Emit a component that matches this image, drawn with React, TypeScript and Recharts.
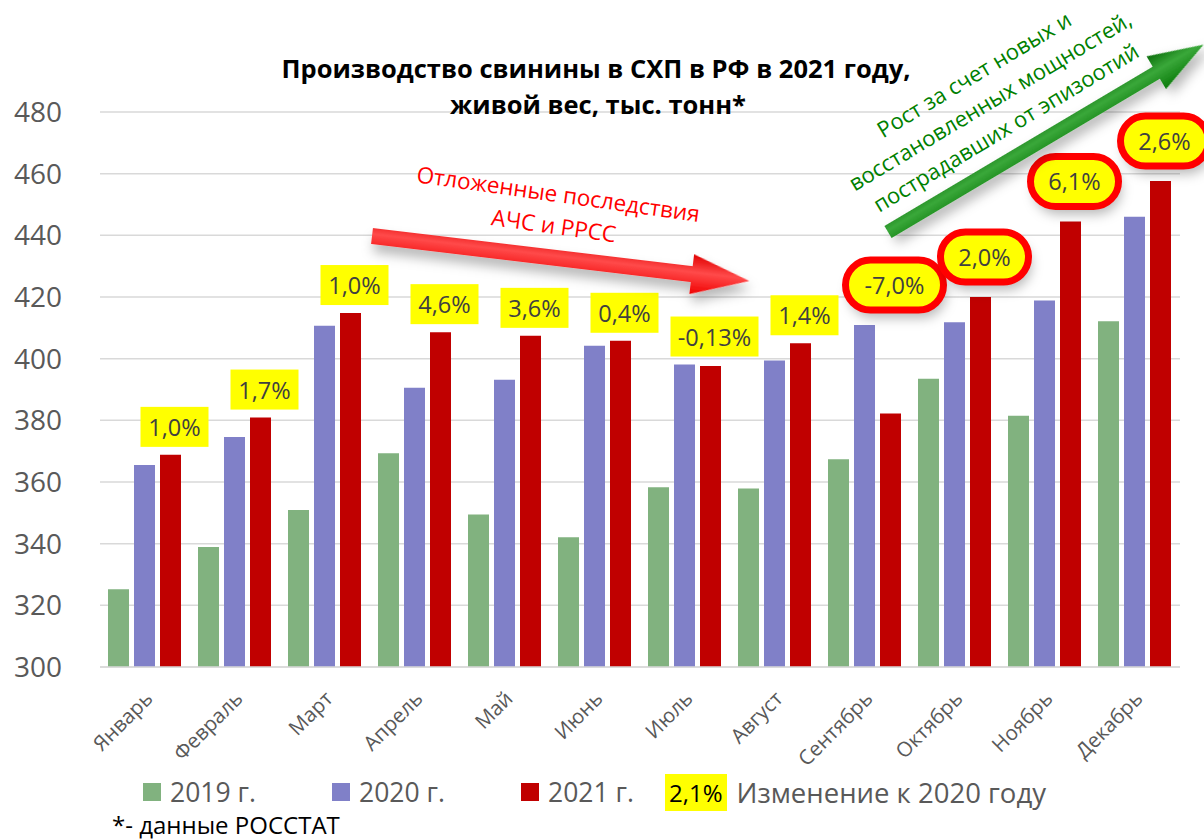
import { BarChart, Bar, XAxis, YAxis, CartesianGrid, Legend, LabelList } from "recharts"

const MONTHS = [
  "Январь", "Февраль", "Март", "Апрель", "Май", "Июнь",
  "Июль", "Август", "Сентябрь", "Октябрь", "Ноябрь", "Декабрь",
]
const PROD_2019 = [325.2, 338.9, 350.9, 369.3, 349.5, 342.1, 358.3, 357.9, 367.4, 393.5, 381.5, 412.1]
const PROD_2020 = [365.5, 374.6, 410.7, 390.6, 393.2, 404.2, 398.1, 399.4, 410.9, 411.8, 418.9, 446.0]
const PROD_2021 = [368.8, 380.9, 414.8, 408.6, 407.4, 405.8, 397.6, 405.0, 382.2, 420.0, 444.5, 457.6]
const CHANGE_2021 = ["1,0%", "1,7%", "1,0%", "4,6%", "3,6%", "0,4%", "-0,13%", "1,4%", "-7,0%", "2,0%", "6,1%", "2,6%"]
const CIRCLED = ["Сентябрь", "Октябрь", "Ноябрь", "Декабрь"]
const Y_TICKS = [300, 320, 340, 360, 380, 400, 420, 440, 460, 480]

const data = MONTHS.map((month, i) => ({
  month,
  y2019: PROD_2019[i],
  y2020: PROD_2020[i],
  y2021: PROD_2021[i],
  change: CHANGE_2021[i],
}))

const FONT = "'Open Sans', 'Noto Sans', sans-serif"
const GRAY = "#595959"

const MonthTick = ({ x, y, payload }: any) => {
  const ax = x + 9
  const ay = y + 33
  return (
    <text x={ax} y={ay} transform={`rotate(-45, ${ax}, ${ay})`} textAnchor="end"
      fontSize={20.5} fill={GRAY} fontFamily={FONT}>
      {payload.value}
    </text>
  )
}

// yellow box over the 2021 bar; the last four get a red ring
const ChangeLabel = (props: any) => {
  const { x, y, width, height, index } = props
  const row = data[index]
  if (!row) return null
  const pxPerUnit = height / (row.y2021 - 300)
  const y2020 = y + height - (row.y2020 - 300) * pxPerUnit
  const top = Math.min(y, y2020)
  const circled = CIRCLED.includes(row.month)
  const cx = x + width / 2 + 4
  const cy = top - (circled ? 40 : 28)
  const w = row.change.length * 10 + 28
  const h = 40
  return (
    <g>
      {circled && (
        <rect x={cx - w / 2 - 10} y={cy - h / 2 - 5} width={w + 20} height={h + 10} rx={25}
          fill="#ffff00" filter="url(#softShadow)" />
      )}
      <rect x={cx - w / 2} y={cy - h / 2} width={w} height={h} fill="#ffff00" />
      {circled && (
        <rect x={cx - w / 2 - 10} y={cy - h / 2 - 5} width={w + 20} height={h + 10} rx={25}
          fill="none" stroke="#ff0000" strokeWidth={7} />
      )}
      <text x={cx} y={cy} textAnchor="middle" dominantBaseline="central" fontSize={23.5}
        fill="#404040" fontFamily={FONT}>
        {row.change}
      </text>
    </g>
  )
}

const renderLegend = (props: any) => {
  const items = props.payload || []
  const lefts = [143, 332, 521]
  return (
    <div style={{ position: "relative", height: 44, fontFamily: FONT, fontSize: 26.5, color: GRAY }}>
      {items.map((item: any, i: number) => (
        <div key={item.value} style={{ position: "absolute", left: lefts[i], top: 0, height: 44, display: "flex", alignItems: "center" }}>
          <span style={{ width: 18, height: 18, background: item.color, display: "inline-block", marginRight: 9 }} />
          <span>{item.value}</span>
        </div>
      ))}
      <div style={{ position: "absolute", left: 665, top: 0, height: 44, display: "flex", alignItems: "center" }}>
        <span style={{ background: "#ffff00", color: "#000", fontSize: 24, padding: "2px 4px", marginRight: 10 }}>2,1%</span>
        <span style={{ fontSize: 27.5 }}>Изменение к 2020 году</span>
      </div>
    </div>
  )
}

const Arrow = ({ x, y, angle, length, half, headLen, headHalf, grad }: any) => {
  const s = length - headLen
  const pts = [
    [0, -half], [s, -half], [s, -headHalf], [length, 0], [s, headHalf], [s, half], [0, half],
  ].map(p => p.join(",")).join(" ")
  return (
    <g transform={`translate(${x},${y}) rotate(${angle})`} filter="url(#softShadow)">
      <polygon points={pts} fill={`url(#${grad})`} />
    </g>
  )
}

export default function App() {
  return (
    <div style={{ position: "absolute", left: 0, top: 0, width: 1204, height: 840, background: "#fff" }}>
      <BarChart width={1204} height={840} data={data}
        margin={{ top: 112, right: 24, bottom: 0, left: 0 }}
        barCategoryGap={8} barGap={5}>
        <CartesianGrid vertical={false} stroke="#d9d9d9" strokeWidth={1.5} />
        <XAxis dataKey="month" height={173} axisLine={{ stroke: "#d9d9d9", strokeWidth: 1.5 }}
          tickLine={false} tickSize={0} tickMargin={0} interval={0} tick={<MonthTick />} />
        <YAxis domain={[300, 480]} ticks={Y_TICKS} width={100} axisLine={false} tickLine={false}
          tickSize={0} tickMargin={38} tick={{ fontSize: 28, fill: GRAY, fontFamily: FONT }} />
        <Legend layout="horizontal" verticalAlign="middle" align="center" content={renderLegend}
          wrapperStyle={{ top: 770, left: 0, width: 1204, height: 44 }} />
        <Bar dataKey="y2019" name="2019 г." fill="#81B27F" isAnimationActive={false} />
        <Bar dataKey="y2020" name="2020 г." fill="#8080C8" isAnimationActive={false} />
        <Bar dataKey="y2021" name="2021 г." fill="#C00000" isAnimationActive={false}>
          <LabelList dataKey="change" content={<ChangeLabel />} />
        </Bar>
      </BarChart>

      <svg width={1204} height={840} style={{ position: "absolute", left: 0, top: 0, pointerEvents: "none" }}>
        <defs>
          <filter id="softShadow" x="-30%" y="-40%" width="170%" height="220%">
            <feDropShadow dx="3" dy="8" stdDeviation="6" floodColor="#000" floodOpacity="0.28" />
          </filter>
          <linearGradient id="redBody" x1="0" y1="-20" x2="0" y2="20" gradientUnits="userSpaceOnUse">
            <stop offset="0" stopColor="#e00000" />
            <stop offset="0.45" stopColor="#ff4a4a" />
            <stop offset="1" stopColor="#f00000" />
          </linearGradient>
          <linearGradient id="greenBody" x1="0" y1="-19" x2="0" y2="19" gradientUnits="userSpaceOnUse">
            <stop offset="0" stopColor="#0b6e0b" />
            <stop offset="0.45" stopColor="#3aa83a" />
            <stop offset="1" stopColor="#0a7a0a" />
          </linearGradient>
        </defs>

        <g fontFamily={FONT} fontWeight="bold" fontSize={25.5} fill="#000" textAnchor="middle">
          <text x={596} y={78}>Производство свинины в СХП в РФ в 2021 году,</text>
          <text x={598} y={114}>живой вес, тыс. тонн*</text>
        </g>

        <Arrow x={372} y={236} angle={6.8} length={380} half={8} headLen={58} headHalf={20} grad="redBody" />
        <g transform="rotate(8, 556, 210)" fontFamily={FONT} fontSize={22.5} fill="#ff0000" textAnchor="middle">
          <text x={556} y={202}>Отложенные последствия</text>
          <text x={556} y={234}>АЧС и РРСС</text>
        </g>

        <Arrow x={888} y={232} angle={-30.7} length={367} half={7} headLen={55} headHalf={19} grad="greenBody" />
        <g transform="rotate(-31, 990, 101)" fontFamily={FONT} fontSize={22} fill="#008000" textAnchor="middle">
          <text x={990} y={78}>Рост за счет новых и</text>
          <text x={990} y={109}>восстановленных мощностей,</text>
          <text x={990} y={140}>пострадавших от эпизоотий</text>
        </g>

        <text x={112} y={834} fontFamily={FONT} fontSize={24} fill="#000">*- данные РОССТАТ</text>
      </svg>
    </div>
  )
}
